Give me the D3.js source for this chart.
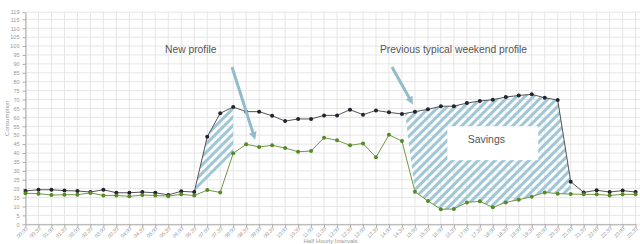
<!DOCTYPE html>
<html>
<head>
<meta charset="utf-8">
<script src="https://cdn.jsdelivr.net/npm/d3@7"></script>
<style>
  body { margin: 0; background: #fff; }
  svg { display: block; font-family: "Liberation Sans", Arial, sans-serif; }
</style>
</head>
<body>
<div id="chart"></div>
<script>
// half hourly labels
let times = [];
for (let h = 0; h < 24; h++) {
    let hh = (h < 10 ? "0" : "") + h;
    times.push(hh + ":00", hh + ":30");
}

// previous typical weekend profile
let previous = [18.7, 19.4, 19.4, 18.9, 18.7, 18.1, 19.4, 17.7, 17.7, 18.1, 17.7, 16.5,
                18.5, 18.1, 49.1, 62.3, 65.8, 63.2, 63.2, 60.9, 57.9, 59.1, 59.1, 61.1,
                61.1, 64.3, 61.5, 63.9, 62.8, 61.9, 63.2, 64.5, 66.2, 66.3, 68.0, 69.2,
                69.9, 71.4, 72.3, 72.9, 71.0, 69.7, 23.9, 17.9, 19.1, 18.1, 18.9, 18.1];

// new profile
let newProfile = [17.4, 17.2, 16.4, 16.6, 16.6, 17.6, 16.2, 16.2, 15.7, 16.4, 16.2, 15.8,
                  16.8, 16.1, 19.2, 17.9, 39.8, 44.9, 43.4, 44.3, 42.8, 40.7, 41.1, 48.6,
                  47.1, 44.3, 45.4, 37.6, 50.2, 46.7, 18.3, 13.1, 8.4, 8.6, 12.3, 12.9,
                  9.5, 12.3, 13.8, 15.5, 17.9, 17.2, 17.0, 16.8, 16.8, 16.2, 16.8, 16.8];

let yTicks = d3.range(0, 120, 5).concat([119]);

let width = 640;
let height = 244;
let plotLeft = 25.5, plotRight = 635.6, plotTop = 12.2, plotBottom = 224.3;

let svg = d3.select("#chart")
            .append("svg")
            .attr("width", width)
            .attr("height", height);

let xScale = d3.scalePoint()
                .domain(times)
                .range([plotLeft, plotRight]);

// fractional index -> x, for the hatched areas
let xIdx = d3.scaleLinear()
                .domain([0, times.length - 1])
                .range([plotLeft, plotRight]);

let yScale = d3.scaleLinear()
                .domain([0, 119])
                .range([plotBottom, plotTop]);

// hatch pattern
let defs = svg.append("defs");
defs.append("pattern")
    .attr("id", "hatch")
    .attr("patternUnits", "userSpaceOnUse")
    .attr("width", 6)
    .attr("height", 6)
    .attr("patternTransform", "rotate(45)")
    .append("rect")
    .attr("width", 3)
    .attr("height", 6)
    .attr("fill", "#9fc7d6");

defs.append("marker")
    .attr("id", "head")
    .attr("viewBox", "0 0 10 10")
    .attr("refX", 5)
    .attr("refY", 5)
    .attr("markerWidth", 2.6)
    .attr("markerHeight", 2.6)
    .attr("orient", "auto")
    .append("path")
    .attr("d", "M0,0 L10,5 L0,10 z")
    .attr("fill", "#93bccb");

// grid
svg.append("g")
    .selectAll("line")
    .data(yTicks)
    .enter()
    .append("line")
    .attr("x1", plotLeft)
    .attr("x2", width)
    .attr("y1", d => yScale(d))
    .attr("y2", d => yScale(d))
    .attr("stroke", "#e6e6e6");

svg.append("g")
    .selectAll("line")
    .data(times)
    .enter()
    .append("line")
    .attr("x1", d => xScale(d))
    .attr("x2", d => xScale(d))
    .attr("y1", plotTop)
    .attr("y2", plotBottom)
    .attr("stroke", "#e6e6e6");

// hatched areas
let interp = (arr, i) => {
    let a = Math.floor(i), t = i - a;
    return t === 0 ? arr[a] : arr[a] + (arr[a + 1] - arr[a]) * t;
};

// new profile area: previous 06:30 -> 08:00, then down to new profile at 08:00
let area1 = [13, 14, 15, 16].map(i => [xIdx(i), yScale(previous[i])])
                .concat([[xIdx(16), yScale(newProfile[16])]]);

// savings area: between previous and new, ~14:40 -> 21:00
let topPts = [29.25].concat(d3.range(30, 43)).map(i => [xIdx(i), yScale(interp(previous, i))]);
let botPts = d3.range(42, 29, -1).map(i => [xIdx(i), yScale(newProfile[i])]);
let area2 = topPts.concat(botPts);

svg.selectAll(".hatch")
    .data([area1, area2])
    .enter()
    .append("path")
    .attr("class", "hatch")
    .attr("d", d => "M" + d.join("L") + "Z")
    .attr("fill", "url(#hatch)");

// savings box
svg.append("rect")
    .attr("x", xIdx(32.5))
    .attr("y", yScale(55))
    .attr("width", xIdx(39.5) - xIdx(32.5))
    .attr("height", yScale(36) - yScale(55))
    .attr("fill", "#fff");

svg.append("text")
    .attr("x", xIdx(35.5))
    .attr("y", yScale(45.5))
    .attr("text-anchor", "middle")
    .attr("font-size", 10.5)
    .attr("fill", "#555")
    .text("Savings");

// axes
let xAxis = d3.axisBottom(xScale).tickSize(3).tickSizeOuter(0);
let yAxis = d3.axisLeft(yScale).tickValues(yTicks).tickSize(3).tickSizeOuter(0);

let gx = svg.append("g")
    .attr("transform", "translate(0," + plotBottom + ")")
    .call(xAxis);
gx.selectAll("text")
    .attr("font-size", 5.2)
    .attr("fill", "#999")
    .attr("text-anchor", "end")
    .attr("x", -2)
    .attr("y", 3)
    .attr("dy", "0.35em")
    .attr("transform", "rotate(-45)");

let gy = svg.append("g")
    .attr("transform", "translate(" + plotLeft + ",0)")
    .call(yAxis);
gy.selectAll("text")
    .attr("font-size", 5.5)
    .attr("fill", "#999");

svg.selectAll(".domain, .tick line").attr("stroke", "#aaa");

// axis titles
svg.append("text")
    .attr("transform", "translate(9," + ((plotTop + plotBottom) / 2) + ") rotate(-90)")
    .attr("text-anchor", "middle")
    .attr("font-size", 6)
    .attr("fill", "#999")
    .text("Consumption");

svg.append("text")
    .attr("x", (plotLeft + plotRight) / 2)
    .attr("y", 243)
    .attr("text-anchor", "middle")
    .attr("font-size", 6)
    .attr("fill", "#999")
    .text("Half Hourly Intervals");

// series
let series = [
    {values: previous, line: "#555", dot: "#22232e"},
    {values: newProfile, line: "#6f9a45", dot: "#558a25"}
];

series.forEach(s => {
    let line = d3.line()
                .x((d, i) => xScale(times[i]))
                .y(d => yScale(d));
    svg.append("path")
        .datum(s.values)
        .attr("d", line)
        .attr("fill", "none")
        .attr("stroke", s.line)
        .attr("stroke-width", 1);
    svg.append("g")
        .selectAll("circle")
        .data(s.values)
        .enter()
        .append("circle")
        .attr("cx", (d, i) => xScale(times[i]))
        .attr("cy", d => yScale(d))
        .attr("r", 2)
        .attr("fill", s.dot);
});

// annotations
let notes = [
    {text: "New profile", x: 165, y: 53, ax1: 232, ay1: 67, ax2: 254, ay2: 136},
    {text: "Previous typical weekend profile", x: 380, y: 53, ax1: 392, ay1: 67, ax2: 411, ay2: 101}
];

svg.selectAll(".note")
    .data(notes)
    .enter()
    .append("text")
    .attr("class", "note")
    .attr("x", d => d.x)
    .attr("y", d => d.y)
    .attr("font-size", 10.3)
    .attr("fill", "#555")
    .text(d => d.text);

svg.selectAll(".arrow")
    .data(notes)
    .enter()
    .append("line")
    .attr("class", "arrow")
    .attr("x1", d => d.ax1)
    .attr("y1", d => d.ay1)
    .attr("x2", d => d.ax2)
    .attr("y2", d => d.ay2)
    .attr("stroke", "#93bccb")
    .attr("stroke-width", 3)
    .attr("marker-end", "url(#head)");
</script>
</body>
</html>
